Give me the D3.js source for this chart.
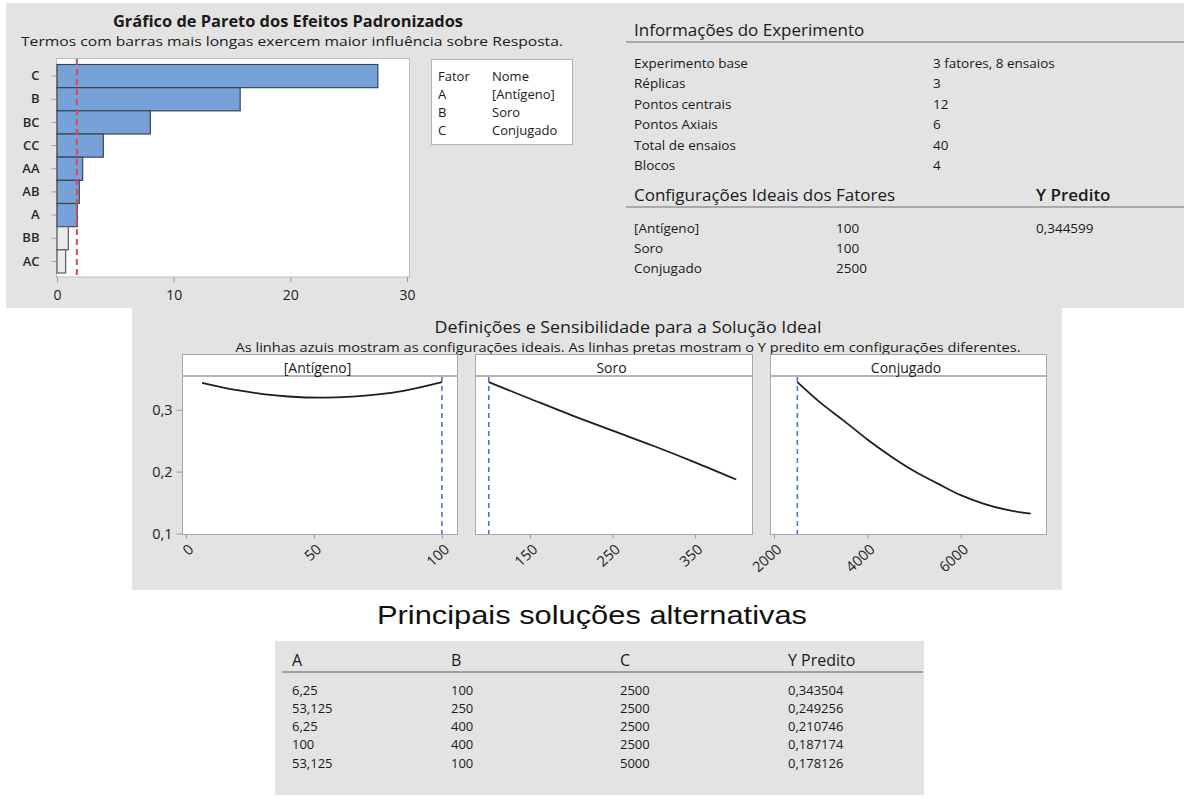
<!DOCTYPE html>
<html>
<head>
<meta charset="utf-8">
<script src="https://cdn.jsdelivr.net/npm/d3@7"></script>
<style>
  html, body { margin: 0; padding: 0; background: #ffffff; }
  svg { display: block; }
</style>
</head>
<body>
<svg id="chart" width="1184" height="798"></svg>
<script>
// ---------- Pareto of standardized effects ----------
const paretoTerms   = ["C", "B", "BC", "CC", "AA", "AB", "A", "BB", "AC"];
const paretoEffects = [27.5, 15.7, 8.0, 3.97, 2.2, 1.91, 1.74, 0.97, 0.74];
const paretoCritical = 1.70;
const paretoTicks = [0, 10, 20, 30];

// ---------- Factor legend ----------
const factorCodes = ["A", "B", "C"];
const factorNames = ["[Antígeno]", "Soro", "Conjugado"];

// ---------- Design information ----------
const designLabels = ["Experimento base", "Réplicas", "Pontos centrais", "Pontos Axiais", "Total de ensaios", "Blocos"];
const designValues = ["3 fatores, 8 ensaios", "3", "12", "6", "40", "4"];

// ---------- Optimal settings ----------
const optimalSettings = [100, 100, 2500];
const optimalPredicted = 0.344599;

// ---------- Sensitivity curves (predicted Y vs each factor) ----------
const antigenoX = [6.25, 20, 30, 40, 53.125, 65, 75, 85, 100];
const antigenoY = [0.3435, 0.3315, 0.3253, 0.3214, 0.3195, 0.3211, 0.3247, 0.3306, 0.3446];
const soroX = [100, 150, 200, 250, 300, 350, 400];
const soroY = [0.3446, 0.3178, 0.2913, 0.2662, 0.2414, 0.2150, 0.1872];
const conjugadoX = [2500, 3000, 3500, 4000, 4500, 5000, 5500, 6000, 6500, 7000, 7500];
const conjugadoY = [0.3446, 0.3110, 0.2820, 0.2520, 0.2250, 0.2010, 0.1810, 0.1620, 0.1480, 0.1380, 0.1320];
const sensYTicks = [0.1, 0.2, 0.3];
const antigenoTicks = [0, 50, 100];
const soroTicks = [150, 250, 350];
const conjugadoTicks = [2000, 4000, 6000];

// ---------- Alternative solutions ----------
const altHeaders = ["A", "B", "C", "Y Predito"];
const altA = [6.25, 53.125, 6.25, 100, 53.125];
const altB = [100, 250, 400, 400, 100];
const altC = [2500, 2500, 2500, 2500, 5000];
const altY = [0.343504, 0.249256, 0.210746, 0.187174, 0.178126];

// ================= drawing =================
const svg = d3.select("#chart");
const FONT = "'Open Sans','Noto Sans',sans-serif";
const PANEL = "#e3e3e3";
const comma = v => String(v).replace(".", ",");

// grey report background (top band + centre block)
svg.append("path")
  .attr("d", "M6,3H1184V308H1062V590H132V308H6Z")
  .attr("fill", PANEL);

// ---------------- Pareto chart ----------------
const px = d3.scaleLinear().domain([0, 30]).range([57, 407]);
const py = d3.scaleBand().domain(paretoTerms).range([64.5, 273]).padding(0);

const pg = svg.append("g");
pg.append("rect")
  .attr("x", 56.5).attr("y", 58.5).attr("width", 353).attr("height", 218.5)
  .attr("fill", "#ffffff").attr("stroke", "#bdbdbd").attr("stroke-width", 1);

pg.selectAll("rect.bar")
  .data(paretoTerms.map((t, i) => ({ t, v: paretoEffects[i] })))
  .join("rect")
  .attr("class", "bar")
  .attr("x", px(0))
  .attr("y", d => py(d.t))
  .attr("width", d => px(d.v) - px(0))
  .attr("height", py.bandwidth())
  .attr("fill", d => d.v > paretoCritical ? "#77a2d9" : "#ebebeb")
  .attr("stroke", d => d.v > paretoCritical ? "#3f4450" : "#5a5a5a")
  .attr("stroke-width", 1.2);

pg.append("line")
  .attr("x1", px(paretoCritical)).attr("x2", px(paretoCritical))
  .attr("y1", 59).attr("y2", 276.5)
  .attr("stroke", "#e2474d").attr("stroke-width", 2)
  .attr("stroke-dasharray", "6,4");

const pyAxis = pg.append("g")
  .attr("transform", "translate(56.5,0)")
  .call(d3.axisLeft(py).tickSize(5).tickSizeOuter(0).tickPadding(12));
pyAxis.select(".domain").remove();
pyAxis.selectAll("line").attr("stroke", "#9a9a9a");
pyAxis.selectAll("text")
  .attr("font-family", FONT).attr("font-size", 13).attr("font-weight", 600).attr("fill", "#2a2a2a");

const pxAxis = pg.append("g")
  .attr("transform", "translate(0,277)")
  .call(d3.axisBottom(px).tickValues(paretoTicks).tickSize(5).tickSizeOuter(0).tickPadding(8));
pxAxis.select(".domain").remove();
pxAxis.selectAll("line").attr("stroke", "#9a9a9a");
pxAxis.selectAll("text")
  .attr("font-family", FONT).attr("font-size", 14).attr("fill", "#222");

pg.append("text")
  .attr("x", 288).attr("y", 27).attr("text-anchor", "middle")
  .attr("font-family", FONT).attr("font-size", 15.5).attr("font-weight", 700).attr("fill", "#1a1a1a")
  .attr("textLength", 350).attr("lengthAdjust", "spacingAndGlyphs")
  .text("Gráfico de Pareto dos Efeitos Padronizados");
pg.append("text")
  .attr("x", 292).attr("y", 46).attr("text-anchor", "middle")
  .attr("font-family", FONT).attr("font-size", 13.5).attr("fill", "#1a1a1a")
  .attr("textLength", 542).attr("lengthAdjust", "spacingAndGlyphs")
  .text("Termos com barras mais longas exercem maior influência sobre Resposta.");

// factor legend
const lg = svg.append("g");
lg.append("rect")
  .attr("x", 431.5).attr("y", 59.5).attr("width", 141).attr("height", 85)
  .attr("fill", "#ffffff").attr("stroke", "#b5b5b5");
const legendRows = [["Fator", "Nome"]].concat(factorCodes.map((c, i) => [c, factorNames[i]]));
legendRows.forEach((r, i) => {
  const y = 80.5 + i * 18.3;
  lg.append("text").attr("x", 438).attr("y", y)
    .attr("font-family", FONT).attr("font-size", 13).attr("fill", "#1a1a1a").text(r[0]);
  lg.append("text").attr("x", 492).attr("y", y)
    .attr("font-family", FONT).attr("font-size", 13).attr("fill", "#1a1a1a").text(r[1]);
});

// ---------------- Experiment information ----------------
const ig = svg.append("g").attr("font-family", FONT).attr("fill", "#1a1a1a");
ig.append("text").attr("x", 634).attr("y", 36).attr("font-size", 17).attr("font-weight", 500).text("Informações do Experimento");
ig.append("line").attr("x1", 626).attr("x2", 1184).attr("y1", 42).attr("y2", 42)
  .attr("stroke", "#a9a9a9").attr("stroke-width", 2);
designLabels.forEach((lab, i) => {
  const y = 68 + i * 20.4;
  ig.append("text").attr("x", 634).attr("y", y).attr("font-size", 13.5).text(lab);
  ig.append("text").attr("x", 933).attr("y", y).attr("font-size", 13.5).text(designValues[i]);
});
ig.append("text").attr("x", 634).attr("y", 201).attr("font-size", 17).attr("font-weight", 500).text("Configurações Ideais dos Fatores");
ig.append("text").attr("x", 1036).attr("y", 201).attr("font-size", 17).attr("font-weight", 600).text("Y Predito");
ig.append("line").attr("x1", 626).attr("x2", 1184).attr("y1", 207).attr("y2", 207)
  .attr("stroke", "#a9a9a9").attr("stroke-width", 2);
factorNames.forEach((n, i) => {
  const y = 233 + i * 20;
  ig.append("text").attr("x", 634).attr("y", y).attr("font-size", 13.5).text(n);
  ig.append("text").attr("x", 836).attr("y", y).attr("font-size", 13.5).text(String(optimalSettings[i]));
});
ig.append("text").attr("x", 1036).attr("y", 233).attr("font-size", 13.5).text(comma(optimalPredicted));

// ---------------- Sensitivity panels ----------------
const sg = svg.append("g");
sg.append("text")
  .attr("x", 628).attr("y", 333).attr("text-anchor", "middle")
  .attr("font-family", FONT).attr("font-size", 16).attr("font-weight", 500).attr("fill", "#1a1a1a")
  .attr("textLength", 387).attr("lengthAdjust", "spacingAndGlyphs")
  .text("Definições e Sensibilidade para a Solução Ideal");
sg.append("text")
  .attr("x", 628).attr("y", 352).attr("text-anchor", "middle")
  .attr("font-family", FONT).attr("font-size", 13).attr("fill", "#1a1a1a")
  .attr("textLength", 785).attr("lengthAdjust", "spacingAndGlyphs")
  .text("As linhas azuis mostram as configurações ideais. As linhas pretas mostram o Y predito em configurações diferentes.");

const sy = d3.scaleLinear().domain([0.1, 0.3545]).range([533.5, 376]);
const facets = [
  { name: factorNames[0], xs: antigenoX, ys: antigenoY, ticks: antigenoTicks, domain: [-1.56, 105.9], x0: 182, x1: 457, opt: optimalSettings[0] },
  { name: factorNames[1], xs: soroX, ys: soroY, ticks: soroTicks, domain: [83.3, 419.1], x0: 475, x1: 752, opt: optimalSettings[1] },
  { name: factorNames[2], xs: conjugadoX, ys: conjugadoY, ticks: conjugadoTicks, domain: [1914, 7827], x0: 770, x1: 1046, opt: optimalSettings[2] }
];

facets.forEach((f, k) => {
  const g = sg.append("g");
  const sx = d3.scaleLinear().domain(f.domain).range([f.x0, f.x1]);
  g.append("rect")
    .attr("x", f.x0 + 0.5).attr("y", 354.5).attr("width", f.x1 - f.x0).attr("height", 180)
    .attr("fill", "#ffffff").attr("stroke", "#a8a8a8");
  g.append("line")
    .attr("x1", f.x0 + 0.5).attr("x2", f.x1 + 0.5).attr("y1", 376).attr("y2", 376)
    .attr("stroke", "#b4b4b4").attr("stroke-width", 2);
  g.append("text")
    .attr("x", (f.x0 + f.x1) / 2 - 2).attr("y", 373).attr("text-anchor", "middle")
    .attr("font-family", FONT).attr("font-size", 14).attr("fill", "#1a1a1a").text(f.name);

  // optimum setting
  g.append("line")
    .attr("x1", sx(f.opt)).attr("x2", sx(f.opt)).attr("y1", 377).attr("y2", 534)
    .attr("stroke", "#4d72d1").attr("stroke-width", 1.6).attr("stroke-dasharray", "5,4");

  // predicted response
  const pts = f.xs.map((x, i) => [x, f.ys[i]]);
  g.append("path")
    .datum(pts)
    .attr("fill", "none").attr("stroke", "#1e1e1e").attr("stroke-width", 1.8)
    .attr("d", d3.line().x(d => sx(d[0])).y(d => sy(d[1])).curve(d3.curveMonotoneX));

  // x axis with slanted labels
  const xa = g.append("g").attr("transform", "translate(0,534.5)")
    .call(d3.axisBottom(sx).tickValues(f.ticks).tickSize(4).tickSizeOuter(0).tickFormat(d3.format("d")));
  xa.select(".domain").remove();
  xa.selectAll("line").attr("stroke", "#9a9a9a");
  xa.selectAll("text")
    .attr("font-family", FONT).attr("font-size", 14.5).attr("fill", "#222")
    .attr("text-anchor", "end").attr("dy", null).attr("y", 0)
    .attr("transform", "translate(8,16) rotate(-43)");

  if (k === 0) {
    const ya = g.append("g").attr("transform", `translate(${f.x0 + 0.5},0)`)
      .call(d3.axisLeft(sy).tickValues(sensYTicks).tickSize(6).tickSizeOuter(0).tickPadding(4).tickFormat(comma));
    ya.select(".domain").remove();
    ya.selectAll("line").attr("stroke", "#9a9a9a");
    ya.selectAll("text").attr("font-family", FONT).attr("font-size", 14.5).attr("fill", "#222");
  }
});

// ---------------- Alternative solutions table ----------------
const tg = svg.append("g");
tg.append("text")
  .attr("x", 592).attr("y", 624).attr("text-anchor", "middle")
  .attr("font-family", "'Liberation Sans',Arial,sans-serif").attr("font-size", 26).attr("fill", "#111")
  .attr("textLength", 430).attr("lengthAdjust", "spacingAndGlyphs")
  .text("Principais soluções alternativas");
tg.append("rect").attr("x", 275).attr("y", 641).attr("width", 649).attr("height", 154).attr("fill", PANEL);
const colX = [292, 451, 620, 788];
altHeaders.forEach((h, i) => {
  tg.append("text").attr("x", colX[i]).attr("y", 666)
    .attr("font-family", FONT).attr("font-size", 16).attr("fill", "#1a1a1a").text(h);
});
tg.append("line").attr("x1", 282).attr("x2", 923).attr("y1", 672).attr("y2", 672)
  .attr("stroke", "#a0a0a0").attr("stroke-width", 2);
const altRows = altA.map((a, i) => [comma(a), String(altB[i]), String(altC[i]), comma(altY[i].toFixed(6))]);
altRows.forEach((r, j) => {
  r.forEach((v, i) => {
    tg.append("text").attr("x", colX[i]).attr("y", 694.5 + j * 18.3)
      .attr("font-family", FONT).attr("font-size", 13).attr("fill", "#1a1a1a").text(v);
  });
});
</script>
</body>
</html>
